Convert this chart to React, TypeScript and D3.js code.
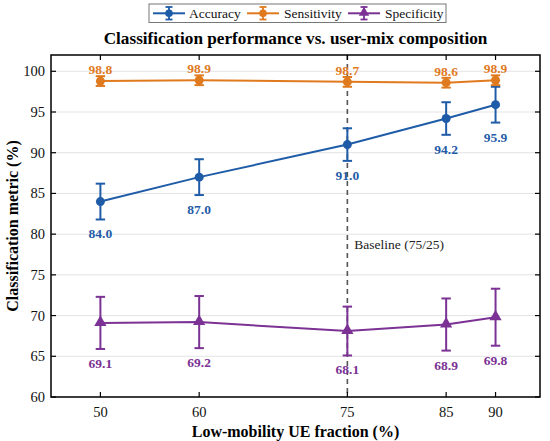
import * as d3 from 'd3'

const xValues = [50, 60, 75, 85, 90]
const xTicks = [50, 60, 75, 85, 90]
const yTicks = [60, 65, 70, 75, 80, 85, 90, 95, 100]

const accuracy = [84.0, 87.0, 91.0, 94.2, 95.9]
const accuracyErr = [2.2, 2.2, 2.0, 2.0, 2.2]
const sensitivity = [98.8, 98.9, 98.7, 98.6, 98.9]
const sensitivityErr = [0.6, 0.6, 0.6, 0.6, 0.6]
const specificity = [69.1, 69.2, 68.1, 68.9, 69.8]
const specificityErr = [3.2, 3.2, 3.0, 3.2, 3.5]

const baselineX = 75
const baselineLabel = 'Baseline (75/25)'

const W = 550
const H = 441
const margin = { top: 55, right: 10, bottom: 44, left: 51 }
const FONT = "'Liberation Serif', 'DejaVu Serif', serif"

type Series = {
  name: string
  values: number[]
  errs: number[]
  color: string
  marker: 'circle' | 'triangle'
  labelPos: 'above' | 'below'
}

const series: Series[] = [
  { name: 'Accuracy', values: accuracy, errs: accuracyErr, color: '#1f5ca8', marker: 'circle', labelPos: 'below' },
  { name: 'Sensitivity', values: sensitivity, errs: sensitivityErr, color: '#e07a1f', marker: 'circle', labelPos: 'above' },
  { name: 'Specificity', values: specificity, errs: specificityErr, color: '#7b3294', marker: 'triangle', labelPos: 'below' },
]

function Marker({ x, y, type, color, size = 4.5 }: { x: number; y: number; type: string; color: string; size?: number }) {
  if (type === 'triangle') {
    const sym = d3.symbol().type(d3.symbolTriangle).size(size * size * 3.2)
    return <path d={sym() ?? ''} transform={`translate(${x},${y - 0.5})`} fill={color} />
  }
  return <circle cx={x} cy={y} r={size} fill={color} />
}

export default function App() {
  const iw = W - margin.left - margin.right
  const ih = H - margin.top - margin.bottom

  const x = d3.scaleLinear().domain([45, 94.5]).range([0, iw])
  const y = d3.scaleLinear().domain([60, 102]).range([ih, 0])

  const line = d3.line<number>()
    .x((_, i) => x(xValues[i]))
    .y(d => y(d))

  const cap = 4.7
  const tick = 5

  // legend layout
  const legendX = 149
  const legendY = 4
  const legendItems = [
    { s: series[0], hx: 153, tx: 189 },
    { s: series[1], hx: 247, tx: 284 },
    { s: series[2], hx: 348, tx: 385 },
  ]

  return (
    <svg
      width={W}
      height={H}
      style={{ position: 'absolute', left: 0, top: 0, background: '#fff', fontFamily: FONT }}
    >
      {/* Legend */}
      <rect x={legendX} y={legendY} width={297} height={18.5} fill="#fff" stroke="#777" strokeWidth={1} />
      {legendItems.map(({ s, hx, tx }) => (
        <g key={s.name}>
          <line x1={hx} x2={hx + 32} y1={13.3} y2={13.3} stroke={s.color} strokeWidth={2} />
          <line x1={hx + 16} x2={hx + 16} y1={7} y2={19.5} stroke={s.color} strokeWidth={1.8} />
          <line x1={hx + 12.5} x2={hx + 19.5} y1={7} y2={7} stroke={s.color} strokeWidth={1.8} />
          <line x1={hx + 12.5} x2={hx + 19.5} y1={19.5} y2={19.5} stroke={s.color} strokeWidth={1.8} />
          <Marker x={hx + 16} y={13.3} type={s.marker} color={s.color} size={3.8} />
          <text x={tx} y={18} fontSize={13.5} fill="#111">{s.name}</text>
        </g>
      ))}

      {/* Title */}
      <text
        x={margin.left + iw / 2}
        y={43.5}
        textAnchor="middle"
        fontSize={17.2}
        fontWeight="bold"
        fill="#000"
      >
        Classification performance vs. user-mix composition
      </text>

      <g transform={`translate(${margin.left},${margin.top})`}>
        {/* grid */}
        {yTicks.map(t => (
          <line key={t} x1={0} x2={iw} y1={y(t)} y2={y(t)} stroke="#e3e3e3" strokeWidth={1} />
        ))}

        {/* baseline */}
        <line
          x1={x(baselineX)}
          x2={x(baselineX)}
          y1={0}
          y2={ih}
          stroke="#555"
          strokeWidth={1.6}
          strokeDasharray="5,4"
        />
        <text x={x(baselineX) + 7} y={y(78.2)} fontSize={13.5} fill="#222">
          {baselineLabel}
        </text>

        {/* series */}
        {series.map(s => (
          <g key={s.name}>
            <path d={line(s.values) ?? ''} fill="none" stroke={s.color} strokeWidth={2} />
            {s.values.map((v, i) => {
              const cx = x(xValues[i])
              const top = y(v + s.errs[i])
              const bot = y(v - s.errs[i])
              return (
                <g key={i}>
                  <line x1={cx} x2={cx} y1={top} y2={bot} stroke={s.color} strokeWidth={2} />
                  <line x1={cx - cap} x2={cx + cap} y1={top} y2={top} stroke={s.color} strokeWidth={2} />
                  <line x1={cx - cap} x2={cx + cap} y1={bot} y2={bot} stroke={s.color} strokeWidth={2} />
                  <Marker x={cx} y={y(v)} type={s.marker} color={s.color} />
                  <text
                    x={cx}
                    y={s.labelPos === 'above' ? top - 2 : bot + 19}
                    textAnchor="middle"
                    fontSize={13.5}
                    fontWeight="bold"
                    fill={s.color}
                  >
                    {v.toFixed(1)}
                  </text>
                </g>
              )
            })}
          </g>
        ))}

        {/* frame */}
        <rect x={0} y={0} width={iw} height={ih} fill="none" stroke="#000" strokeWidth={1.5} />

        {/* y ticks */}
        {yTicks.map(t => (
          <g key={t}>
            <line x1={0} x2={tick} y1={y(t)} y2={y(t)} stroke="#000" strokeWidth={1.2} />
            <line x1={iw - tick} x2={iw} y1={y(t)} y2={y(t)} stroke="#000" strokeWidth={1.2} />
            <text x={-6} y={y(t) + 5} textAnchor="end" fontSize={14.5} fill="#111">{t}</text>
          </g>
        ))}

        {/* x ticks */}
        {xTicks.map(t => (
          <g key={t}>
            <line x1={x(t)} x2={x(t)} y1={ih} y2={ih - tick} stroke="#000" strokeWidth={1.2} />
            <line x1={x(t)} x2={x(t)} y1={0} y2={tick} stroke="#000" strokeWidth={1.2} />
            <text x={x(t)} y={ih + 20} textAnchor="middle" fontSize={14.5} fill="#111">{t}</text>
          </g>
        ))}

        {/* axis labels */}
        <text
          x={iw / 2}
          y={ih + 40}
          textAnchor="middle"
          fontSize={16}
          fontWeight="bold"
          fill="#000"
        >
          Low-mobility UE fraction (%)
        </text>
        <text
          transform={`translate(${-33},${ih / 2}) rotate(-90)`}
          textAnchor="middle"
          fontSize={16}
          fontWeight="bold"
          fill="#000"
        >
          Classification metric (%)
        </text>
      </g>
    </svg>
  )
}
